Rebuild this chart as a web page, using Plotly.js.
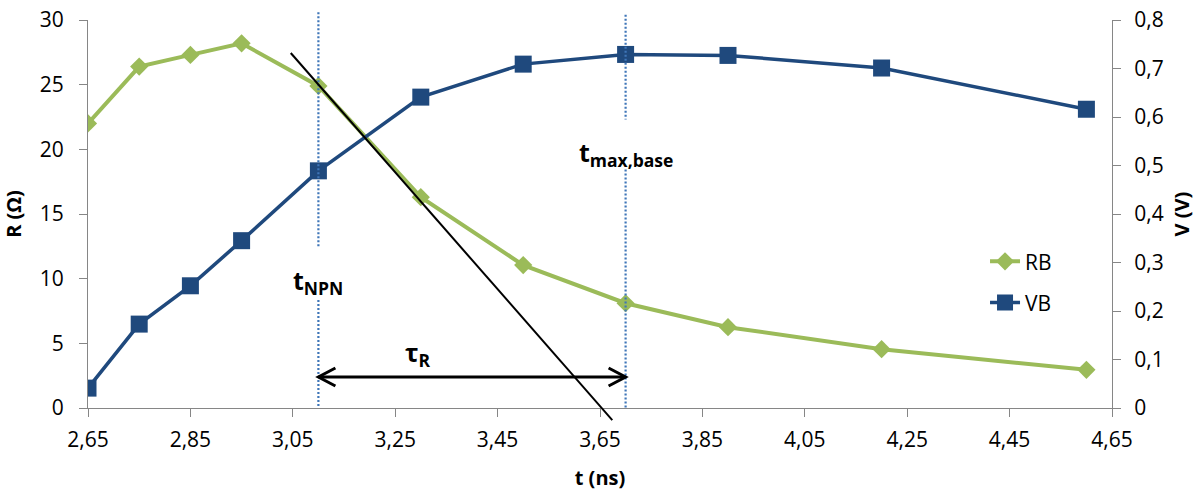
<!DOCTYPE html>
<html>
<head>
<meta charset="utf-8">
<script src="https://cdn.plot.ly/plotly-3.0.1.min.js"></script>
<style>html,body{margin:0;padding:0;background:#fff;}#chart{width:1203px;height:491px;}</style>
</head>
<body>
<div id="chart"></div>
<script>
// ---- data ----
const timeNs = [2.65, 2.75, 2.85, 2.95, 3.10, 3.30, 3.50, 3.70, 3.90, 4.20, 4.60];
const rbOhm  = [22.0, 26.4, 27.3, 28.2, 24.9, 16.3, 11.05, 8.1, 6.25, 4.55, 2.95];
const vbVolt = [0.041, 0.173, 0.252, 0.345, 0.489, 0.641, 0.709, 0.729, 0.727, 0.701, 0.616];
const xTickStart = 2.65, xTickStep = 0.2;

// annotation geometry (data units)
const tNpn = 3.10, tMaxBase = 3.70;
const guideNpnR = [[30.6, 12.4], [8.35, 0]];
const guideMaxR = [[30.4, 22.3], [18.45, 0]];
const tangentT = [3.046, 3.674];
const tangentR = [27.45, -0.94];
const arrowR = 2.4;

const xRange = [2.65, 4.65], yRange = [0, 30], y2Range = [0, 0.8];
const W = 1203, H = 491, M = {l: 88, r: 91, t: 20, b: 83};
const plotW = W - M.l - M.r, plotH = H - M.t - M.b;
const pxX = plotW / (xRange[1] - xRange[0]);
const pxY = plotH / (yRange[1] - yRange[0]);
const dx = v => (v - xRange[0]) / (xRange[1] - xRange[0]);
const dy = v => (v - yRange[0]) / (yRange[1] - yRange[0]);

const green = '#9BBB59', blue = '#1F497D', guideCol = '#3F76B8', axisCol = '#868686';
const FONT = '"Open Sans", sans-serif';

const traces = [
  {x: timeNs, y: rbOhm, name: 'RB', type: 'scatter', mode: 'lines+markers', yaxis: 'y', legendgroup: 'a',
   line: {color: green, width: 4}, marker: {symbol: 'diamond', size: 14, color: green}},
  {x: timeNs, y: vbVolt, name: 'VB', type: 'scatter', mode: 'lines+markers', yaxis: 'y2', legendgroup: 'b',
   line: {color: blue, width: 3.5}, marker: {symbol: 'square', size: 17, color: blue}}
];

const shapes = [];
[[tNpn, guideNpnR], [tMaxBase, guideMaxR]].forEach(([t, segs]) => {
  segs.forEach(s => shapes.push({type: 'line', xref: 'x domain', yref: 'y domain',
    x0: dx(t), x1: dx(t), y0: dy(s[0]), y1: dy(s[1]),
    line: {color: guideCol, width: 2.2, dash: '2px,2px'}}));
});
shapes.push({type: 'line', xref: 'x domain', yref: 'y domain',
  x0: dx(tangentT[0]), y0: dy(tangentR[0]), x1: dx(tangentT[1]), y1: dy(tangentR[1]),
  line: {color: '#000', width: 2}});
// double arrow
shapes.push({type: 'line', xref: 'x', yref: 'y', x0: tNpn, x1: tMaxBase, y0: arrowR, y1: arrowR,
  line: {color: '#000', width: 3}});
const hx = 17 / pxX, hy = 9 / pxY;
shapes.push({type: 'path', xref: 'x', yref: 'y',
  path: `M${tMaxBase - hx},${arrowR + hy} L${tMaxBase},${arrowR} L${tMaxBase - hx},${arrowR - hy}`,
  line: {color: '#000', width: 3}});
shapes.push({type: 'path', xref: 'x', yref: 'y',
  path: `M${tNpn + hx},${arrowR + hy} L${tNpn},${arrowR} L${tNpn + hx},${arrowR - hy}`,
  line: {color: '#000', width: 3}});

const labels = [
  {text: '<b>t<sub>NPN</sub></b>', x: tNpn, y: 9.8},
  {text: '<b>τ<sub>R</sub></b>', x: 3.294, y: 4.2},
  {text: '<b>t<sub>max,base</sub></b>', x: tMaxBase, y: 19.7}
];
const annotations = labels.map(l => ({x: l.x, y: l.y, xref: 'x', yref: 'y', text: l.text, showarrow: false,
  font: {family: FONT, size: 25, color: '#000'}}));

const tickFont = {family: FONT, size: 21, color: '#000'};
const titleFont = {family: FONT, size: 20, color: '#000'};
const layout = {
  width: W, height: H, margin: M, paper_bgcolor: '#fff', plot_bgcolor: '#fff',
  separators: ',.', showlegend: true,
  xaxis: {range: xRange, tick0: xTickStart, dtick: xTickStep, tickformat: '.2f', ticks: 'outside', ticklen: 8,
    tickcolor: axisCol, showline: true, linecolor: axisCol, showgrid: false, zeroline: false, tickfont: tickFont,
    ticklabelstandoff: 5, title: {text: '<b>t (ns)</b>', font: titleFont, standoff: 20}},
  yaxis: {range: yRange, dtick: 5, ticks: 'outside', ticklen: 8, tickcolor: axisCol, showline: true, linecolor: axisCol,
    showgrid: false, zeroline: false, tickfont: tickFont, ticklabelstandoff: 11,
    title: {text: '<b>R (Ω)</b>', font: titleFont, standoff: 12}},
  yaxis2: {range: y2Range, dtick: 0.1, overlaying: 'y', side: 'right', ticks: 'outside', ticklen: 8, tickcolor: axisCol,
    showline: true, linecolor: axisCol, showgrid: false, zeroline: false, tickfont: tickFont, ticklabelstandoff: 9,
    title: {text: '<b>V (V)</b>', font: titleFont, standoff: 12}},
  legend: {x: 0.876, y: 0.43, xanchor: 'left', yanchor: 'top', font: {family: FONT, size: 21, color: '#000'},
    bgcolor: 'rgba(0,0,0,0)', tracegroupgap: 11, traceorder: 'grouped'},
  shapes: shapes, annotations: annotations
};
Plotly.newPlot('chart', traces, layout, {displayModeBar: false, staticPlot: true});
</script>
</body>
</html>
